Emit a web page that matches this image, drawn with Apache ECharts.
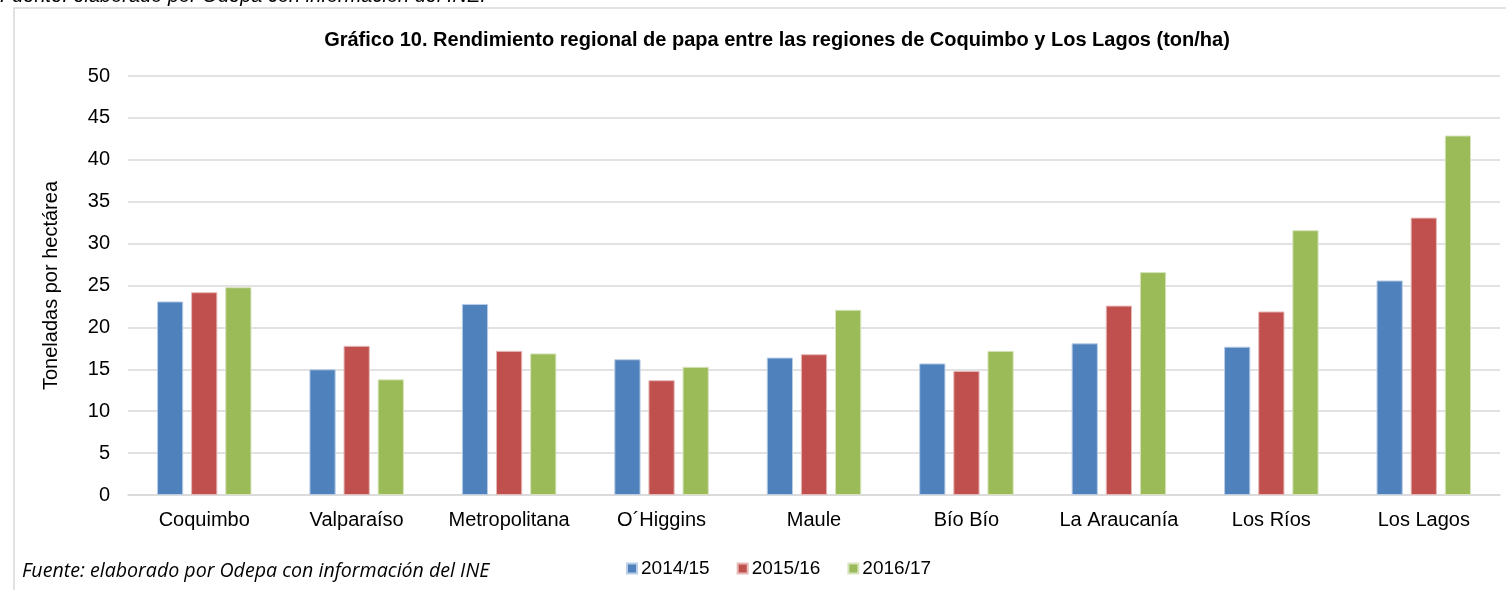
<!DOCTYPE html>
<html>
<head>
<meta charset="utf-8">
<script src="https://cdn.jsdelivr.net/npm/echarts@6/dist/echarts.min.js"></script>
<style>
  html, body { margin: 0; padding: 0; background: #fff; }
  #chart { width: 1506px; height: 590px; }
</style>
</head>
<body>
<div id="chart"></div>
<script>
var regiones = ['Coquimbo', 'Valparaíso', 'Metropolitana', 'O´Higgins', 'Maule', 'Bío Bío', 'La Araucanía', 'Los Ríos', 'Los Lagos'];
var temporadas = ['2014/15', '2015/16', '2016/17'];
var rend1415 = [23.1, 15.0, 22.8, 16.2, 16.4, 15.7, 18.1, 17.7, 25.6];
var rend1516 = [24.2, 17.8, 17.2, 13.7, 16.8, 14.8, 22.6, 21.9, 33.1];
var rend1617 = [24.8, 13.8, 16.9, 15.3, 22.1, 17.2, 26.6, 31.6, 42.9];
var yTicks = [0, 5, 10, 15, 20, 25, 30, 35, 40, 45, 50];

var colores = ['#4F81BD', '#C0504D', '#9BBB59'];
var bordes = ['#b9cde5', '#e6b9b8', '#d7e4bd'];

var dom = document.getElementById('chart');
var myChart = echarts.init(dom);

function serie(i, data) {
    return {
        name: temporadas[i],
        type: 'bar',
        data: data,
        barGap: '30%',
        barCategoryGap: '38%',
        itemStyle: {
            color: colores[i],
            borderColor: bordes[i],
            borderWidth: 1
        }
    };
}

var option = {
    backgroundColor: '#fff',
    animation: false,
    title: {
        text: 'Gráfico 10. Rendimiento regional de papa entre las regiones de Coquimbo y Los Lagos (ton/ha)',
        left: 772,
        top: 25,
        textAlign: 'center',
        textStyle: {
            fontFamily: 'Liberation Sans',
            fontSize: 20,
            fontWeight: 'bold',
            color: '#000'
        }
    },
    graphic: [
        {
            type: 'polyline',
            shape: { points: [[14, 590], [14, 8], [1506, 8]] },
            style: { stroke: '#d9d9d9', lineWidth: 1.5, fill: null },
            silent: true
        },
        {
            type: 'text',
            left: 0,
            top: -14,
            style: {
                text: 'Fuente: elaborado por Odepa con información del INE.',
                font: 'italic 20px "Liberation Sans"',
                fill: '#000'
            }
        },
        {
            type: 'text',
            left: 22,
            top: 561,
            style: {
                text: 'Fuente: elaborado por Odepa con información del INE',
                font: 'italic 19.6px "Open Sans"',
                fill: '#000'
            }
        }
    ],
    legend: {
        data: temporadas,
        left: 621,
        top: 554,
        itemWidth: 10,
        itemHeight: 10,
        itemGap: 27,
        icon: 'rect',
        textStyle: {
            fontFamily: 'Liberation Sans',
            fontSize: 19,
            color: '#000',
            padding: [0, 0, 0, -1]
        }
    },
    grid: {
        left: 128,
        right: 6,
        top: 76,
        bottom: 95
    },
    xAxis: {
        type: 'category',
        data: regiones,
        axisLine: { show: true, lineStyle: { color: '#d9d9d9', width: 1.5 } },
        axisTick: { show: false },
        axisLabel: {
            interval: 0,
            margin: 15,
            fontFamily: 'Liberation Sans',
            fontSize: 20,
            color: '#000'
        }
    },
    yAxis: {
        type: 'value',
        min: yTicks[0],
        max: yTicks[yTicks.length - 1],
        interval: 5,
        name: 'Toneladas por hectárea',
        nameLocation: 'middle',
        nameGap: 67,
        nameRotate: 90,
        nameTextStyle: {
            fontFamily: 'Liberation Sans',
            fontSize: 20,
            color: '#000'
        },
        axisLine: { show: false },
        axisTick: { show: false },
        axisLabel: {
            margin: 18,
            fontFamily: 'Liberation Sans',
            fontSize: 20,
            color: '#000'
        },
        splitLine: { lineStyle: { color: '#d9d9d9', width: 1.5 } }
    },
    series: [
        serie(0, rend1415),
        serie(1, rend1516),
        serie(2, rend1617)
    ]
};

myChart.setOption(option, true);
</script>
</body>
</html>
